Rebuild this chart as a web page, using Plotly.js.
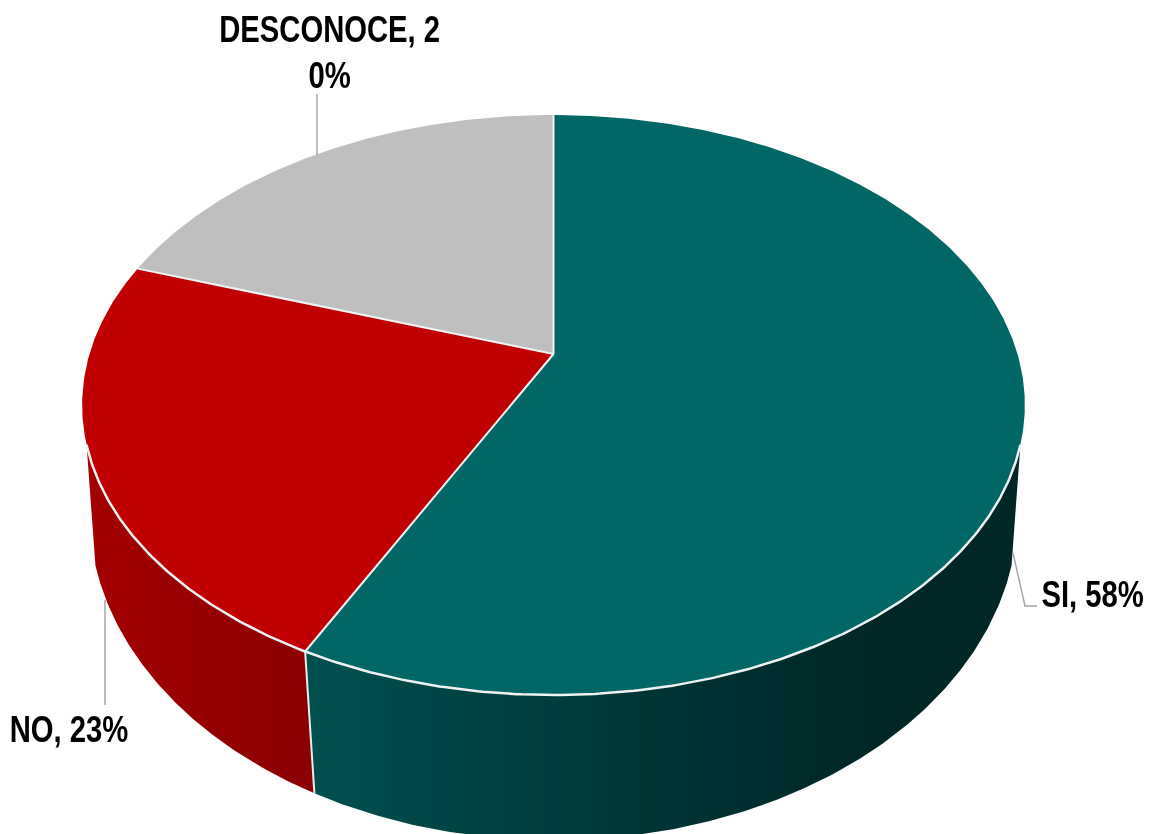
<!DOCTYPE html>
<html>
<head>
<meta charset="utf-8">
<script src="https://cdn.plot.ly/plotly-3.0.1.min.js"></script>
<style>html,body{margin:0;padding:0;background:#fff;overflow:hidden}#chart{filter:blur(0.45px)}</style>
</head>
<body>
<div id="chart" style="width:1157px;height:834px"></div>
<script>
// Data
const categories = ['SI', 'NO', 'DESCONOCE'];
const shares = [57.45, 22.75, 19.8];
const sliceLabels = ['SI, 58%', 'NO, 23%', 'DESCONOCE, 2<br>0%'];

// Styles
const topColors = ['#006666', '#c00000', '#bfbfbf'];
const wallScales = [
  [[0, '#005050'], [0.45, '#003636'], [0.8, '#002626'], [1, '#002626']],
  [[0, '#a40000'], [1, '#8a0000']],
  null
];
const leaderColor = '#a6a6a6';

// Perspective disc: top face and bottom face of the pie
const topFace = {x0: 553.5, y0: 354, A: 281, B: 464, k: 0.176};
const baseFace = {x0: 553.5, y0: 463, A: 320.6, B: 459, k: 0.15};
const wallLimits = [107.8, 252.2];

function project(face, deg) {
  const t = deg * Math.PI / 180, u = Math.sin(t), v = Math.cos(t), d = 1 + face.k * v;
  return [face.x0 + face.B * u / d, face.y0 - face.A * v / d];
}
function arc(face, a, b) {
  const pts = [], n = Math.max(2, Math.ceil(Math.abs(b - a) / 0.5));
  for (let i = 0; i <= n; i++) pts.push(project(face, a + (b - a) * i / n));
  return pts;
}

const total = shares.reduce((s, v) => s + v, 0);
const slices = [];
let acc = 0;
shares.forEach((v, i) => {
  const a = acc / total * 360; acc += v;
  slices.push({i, a, b: acc / total * 360});
});

const traces = [];
function poly(pts, extra) {
  traces.push(Object.assign({
    type: 'scatter', mode: 'lines', x: pts.map(p => p[0]), y: pts.map(p => p[1]),
    hoverinfo: 'skip', showlegend: false
  }, extra));
}

// Side walls
slices.forEach(s => {
  if (!wallScales[s.i]) return;
  const a = Math.max(s.a, wallLimits[0]), b = Math.min(s.b, wallLimits[1]);
  if (b <= a) return;
  const topArc = arc(topFace, a, b), baseArc = arc(baseFace, b, a);
  const pts = topArc.concat(baseArc); pts.push(topArc[0]);
  const xs = pts.map(p => p[0]);
  poly(pts, {
    fill: 'toself', line: {width: 0}, name: categories[s.i],
    fillcolor: wallScales[s.i][0][1],
    fillgradient: {type: 'horizontal', colorscale: wallScales[s.i],
      start: Math.min.apply(null, xs), stop: Math.max.apply(null, xs)}
  });
});
// Seam between the walls
poly([project(topFace, slices[0].b), project(baseFace, slices[0].b)], {line: {color: '#e8eeee', width: 2}});

// Top face
slices.forEach(s => {
  const pts = [[topFace.x0, topFace.y0]].concat(arc(topFace, s.a, s.b));
  pts.push([topFace.x0, topFace.y0]);
  poly(pts, {fill: 'toself', fillcolor: topColors[s.i], line: {width: 0}, name: categories[s.i]});
});
// Radial separators and front rim
slices.forEach(s => {
  poly([[topFace.x0, topFace.y0], project(topFace, s.a)], {line: {color: '#f0f4f4', width: 2}});
});
poly(arc(topFace, wallLimits[0], wallLimits[1]), {line: {color: '#eef2f2', width: 2.5}});

// Leader lines
poly([[317, 94], [317, 155]], {line: {color: leaderColor, width: 1.5}});
poly([[105, 600], [105, 705]], {line: {color: leaderColor, width: 1.5}});
poly([[1013, 553], [1025, 606], [1037, 606]], {line: {color: leaderColor, width: 1.5}});

const labelPos = [[1092, 594], [68.5, 729], [329.5, 53]];
const annotations = sliceLabels.map((t, i) => ({
  x: labelPos[i][0], y: labelPos[i][1], xref: 'x', yref: 'y',
  text: '<b>' + t.split('<br>').join('</b><br><b>') + '</b>', showarrow: false,
  xanchor: 'center', yanchor: 'middle',
  font: {family: '"Liberation Sans", Arial, sans-serif', size: 37.5, color: '#000'}
}));

const layout = {
  width: 1157, height: 834, margin: {l: 0, r: 0, t: 0, b: 0},
  paper_bgcolor: '#fff', plot_bgcolor: '#fff', showlegend: false, hovermode: false,
  xaxis: {range: [0, 1157], visible: false, fixedrange: true},
  yaxis: {range: [834, 0], visible: false, fixedrange: true},
  annotations
};
const labelCondense = 0.78;
const labelLineGap = '46px';
Plotly.newPlot('chart', traces, layout, {displayModeBar: false, staticPlot: true}).then(gd => {
  // The reference uses a condensed bold face: narrow the real text about its own centre.
  gd.querySelectorAll('.annotation-text-g').forEach(g => {
    g.querySelectorAll('tspan.line').forEach((ln, i) => { if (i > 0) ln.setAttribute('dy', labelLineGap); });
    const box = g.getBBox(), cx = box.x + box.width / 2;
    const old = g.getAttribute('transform') || '';
    g.setAttribute('transform', old + ' translate(' + cx + ',0) scale(' + labelCondense + ',1) translate(' + (-cx) + ',0)');
  });
});
</script>
</body>
</html>
